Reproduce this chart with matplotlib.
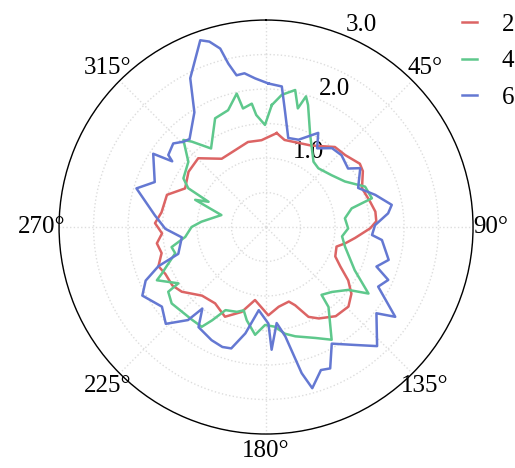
import numpy as np
import matplotlib.pyplot as plt

plt.rcParams['font.family'] = ['Liberation Serif', 'DejaVu Serif']

# angles in degrees (clockwise from north) and radii
theta_2 = [6.5, 12, 29, 40.7, 47.7, 56, 60, 68, 76, 82, 87, 90.7, 97, 101.7, 105.5, 113, 118,
           123, 128, 134, 142, 150, 154.7, 159.6, 163, 171, 178.5, 188.6, 196, 204.6, 213.7,
           223, 232.5, 238, 245, 250, 256, 261.5, 266.5, 272, 278, 288, 295.5, 305.5, 315.4,
           327, 338, 348, 357, 366.5]
r_2 = [1.37, 1.29, 1.35, 1.53, 1.55, 1.64, 1.62, 1.50, 1.55, 1.60, 1.60, 1.51, 1.30, 1.17, 1.06,
       1.09, 1.22, 1.42, 1.57, 1.66, 1.64, 1.53, 1.44, 1.21, 1.13, 1.17, 1.28, 1.07, 1.28, 1.43,
       1.33, 1.36, 1.54, 1.60, 1.61, 1.66, 1.56, 1.60, 1.51, 1.61, 1.53, 1.51, 1.30, 1.38, 1.40,
       1.18, 1.20, 1.26, 1.26, 1.37]

theta_4 = [2.7, 6.8, 12, 15, 17, 19, 25.6, 36, 41.7, 51.6, 60, 67.8, 74.8, 77.7, 83.7, 91, 97,
           104, 116, 123, 127.4, 134.6, 140.7, 142, 149.8, 156, 165, 170, 175, 180.6, 185.8,
           191.7, 195, 199, 206, 210, 212.8, 218.6, 231, 236.5, 237.3, 244, 246, 247.7, 253.9,
           258, 263, 270, 274.7, 285, 291, 293.7, 296.5, 300.5, 310, 316.5, 319, 325, 334.9,
           342, 347.6, 349, 353.4, 355, 359.4, 362.7]
r_4 = [1.77, 1.93, 2.03, 1.78, 1.98, 1.87, 1.48, 1.17, 1.14, 1.21, 1.32, 1.55, 1.59, 1.27, 1.15,
       1.19, 1.11, 1.18, 1.43, 1.77, 1.50, 1.34, 1.27, 1.47, 1.89, 1.76, 1.64, 1.57, 1.45, 1.42,
       1.57, 1.38, 1.25, 1.30, 1.34, 1.56, 1.72, 1.72, 1.76, 1.70, 1.51, 1.76, 1.65, 1.58, 1.37,
       1.40, 1.18, 1.08, 0.94, 0.67, 1.10, 0.91, 1.26, 1.39, 1.47, 1.74, 1.64, 1.39, 1.74, 1.78,
       1.98, 1.75, 1.80, 1.63, 1.48, 1.77]

theta_6 = [1, 6.4, 9.4, 14, 20.4, 29, 33, 39.9, 46.4, 54.5, 58, 67, 73.6, 80, 83.6, 89, 94.3,
           96.4, 105, 109.7, 113.4, 118, 124.8, 128, 137, 143, 150.6, 155.6, 159, 164, 166.3,
           170, 173.7, 177.4, 178.6, 185, 191, 196, 200, 205.7, 214, 218, 220, 226, 232.6, 241,
           246, 250, 253, 263, 269, 276, 286.6, 292, 303, 305, 306.4, 312, 316, 319, 328, 333,
           340.6, 343, 345.6, 347, 349, 352, 355.8, 361]
r_6 = [2.08, 2.05, 1.69, 1.33, 1.35, 1.56, 1.36, 1.49, 1.51, 1.46, 1.61, 1.45, 1.65, 1.85, 1.78,
       1.58, 1.54, 1.69, 1.84, 1.70, 1.93, 1.84, 2.28, 2.03, 2.36, 2.14, 1.94, 2.25, 2.22, 2.43,
       2.18, 1.61, 1.40, 1.78, 1.40, 1.21, 1.57, 1.83, 1.85, 1.82, 1.75, 1.50, 1.76, 2.02, 1.90,
       2.05, 1.91, 1.66, 1.33, 1.23, 1.46, 1.62, 1.96, 1.74, 1.95, 1.66, 1.76, 1.81, 1.72, 1.69,
       1.96, 2.42, 2.87, 2.81, 2.67, 2.43, 2.24, 2.25, 2.16, 2.08]

labels = ['2', '4', '6']
colors = ['#dc6464', '#5ec88c', '#6478d2']

fig = plt.figure(figsize=(5.15, 4.68), dpi=100)
ax = fig.add_axes([0.1146, 0.0726, 0.804, 0.8846], projection='polar')
ax.set_theta_zero_location('N')
ax.set_theta_direction(-1)

for th, r, lab, c in zip([theta_2, theta_4, theta_6], [r_2, r_4, r_6], labels, colors):
    ax.plot(np.deg2rad(th), r, color=c, lw=1.8, label=lab)

ax.set_ylim(0, 3)
ax.set_rticks([0.5, 1.0, 1.5, 2.0, 2.5, 3.0])
ax.set_yticklabels(['', '1.0', '', '2.0', '', '3.0'], fontsize=18)
ax.set_rlabel_position(22.5)
ax.set_thetagrids(np.arange(0, 360, 45),
                  ['', '45°', '90°', '135°', '180°', '225°', '270°', '315°'], fontsize=18)
ax.tick_params(axis='x', pad=2)
ax.grid(color='#dddddd', linestyle=':', lw=1)
ax.spines['polar'].set_linewidth(1.0)

ax.legend(loc='upper left', bbox_to_anchor=(0.918, 1.07), frameon=False, fontsize=18,
          handlelength=0.6, labelspacing=0.55, handletextpad=1.0)

fig.savefig('out.png', dpi=100)
